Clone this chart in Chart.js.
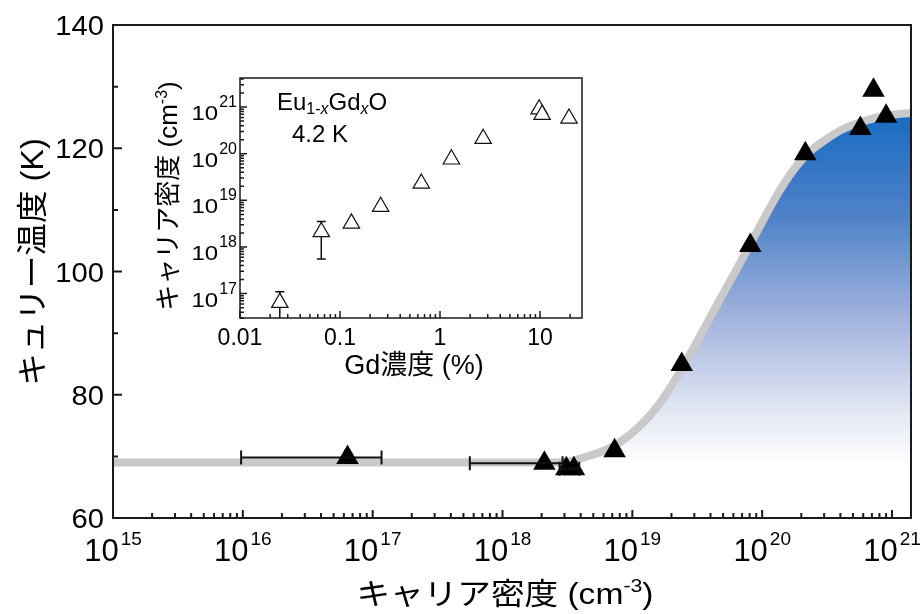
<!DOCTYPE html>
<html><head><meta charset="utf-8">
<script src="https://cdn.jsdelivr.net/npm/chart.js@4.4.1/dist/chart.umd.min.js"></script>
<style>
html,body{margin:0;padding:0;background:#fff;overflow:hidden}
#wrap{position:relative;width:924px;height:614px;background:#fff}
#wrap canvas{position:absolute;left:0;top:0}
</style></head><body>
<div id="wrap"><canvas id="main" width="924" height="614"></canvas><canvas id="inset" width="924" height="614"></canvas></div>
<script>
// ---------- main panel data ----------
const tcCarrier = [6.4e16, 2.1e18, 3.1e18, 3.55e18, 7.3e18, 2.4e19, 8.1e19, 2.15e20, 5.7e20, 7.2e20, 9.0e20];
const tcValue   = [69.8, 68.9, 68.0, 68.0, 70.9, 84.9, 104.2, 119.1, 123.2, 129.4, 125.2];
const tcErrLow  = [9.7e15, 5.6e17, null, 2.75e18, null, null, null, null, null, null, null];
const tcErrHigh = [1.17e17, 2.9e18, null, 3.9e18, null, null, null, null, null, null, null];
const fitCarrier = [1e15, 1e16, 1e17, 1e18, 2.72e18, 4.61e18, 7.19e18, 1.12e19, 1.59e19, 2.27e19, 3.23e19, 4.61e19, 6.56e19, 9.35e19, 1.33e20, 1.74e20, 2.26e20, 3.06e20, 4.06e20, 5.48e20, 7.41e20, 9.84e20, 1.4e21];
const fitTc      = [69.0, 69.0, 69.0, 69.0, 69.0, 70.06, 71.68, 74.77, 78.34, 83.37, 89.05, 95.05, 100.89, 106.9, 112.74, 116.47, 119.23, 121.34, 122.96, 124.1, 124.91, 125.4, 125.72];
const mainXExponents = [15, 16, 17, 18, 19, 20, 21];
const mainYTicks = [60, 80, 100, 120, 140];
const mainYMinor = [70, 90, 110, 130];

// ---------- inset data ----------
const gdConc      = [0.025, 0.065, 0.13, 0.255, 0.65, 1.3, 2.7, 9.8, 10.5, 19.5];
const insetCarrier = [6.4e16, 2.1e18, 3.2e18, 7.3e18, 2.3e19, 7.6e19, 2.1e20, 9.0e20, 6.9e20, 5.7e20];
const insetErrLow  = [1e16, 5.5e17, null, null, null, null, null, null, null, null];
const insetErrHigh = [1.1e17, 3.5e18, null, null, null, null, null, null, null, null];
const insetXTicks  = [0.01, 0.1, 1, 10];
const insetXLabels = ['0.01', '0.1', '1', '10'];
const insetYExponents = [17, 18, 19, 20, 21];

const LAT = "'Liberation Sans', Arial, sans-serif";
const JP = "'Liberation Sans', 'Noto Sans CJK JP', sans-serif";

function drawRuns(ctx, runs, x, y, opts) {
  opts = opts || {};
  const align = opts.align || 'center';
  ctx.save();
  ctx.translate(x, y);
  if (opts.rot) ctx.rotate(opts.rot);
  ctx.scale(opts.sx || 1, 1);
  ctx.textBaseline = 'alphabetic';
  ctx.textAlign = 'left';
  ctx.fillStyle = opts.color || '#000';
  let w = 0;
  runs.forEach(r => { ctx.font = r.font; r.w = ctx.measureText(r.t).width * (r.sx || 1); w += r.w + (r.gap || 0); });
  let cx = align === 'center' ? -w / 2 : (align === 'right' ? -w : 0);
  runs.forEach(r => {
    ctx.font = r.font;
    ctx.save(); ctx.translate(cx, r.dy || 0); ctx.scale(r.sx || 1, 1);
    ctx.fillText(r.t, 0, 0); ctx.restore();
    cx += r.w + (r.gap || 0);
  });
  ctx.restore();
}

// ---------- main chart ----------
const mainDeco = {
  id: 'mainDeco',
  afterDatasetsDraw(chart) {
    const { ctx, scales: { x, y } } = chart;
    ctx.save();
    ctx.strokeStyle = '#111'; ctx.lineWidth = 2;
    ctx.beginPath();
    tcCarrier.forEach((c, i) => {
      if (tcErrLow[i] == null) return;
      const py = y.getPixelForValue(tcValue[i]);
      const x0 = x.getPixelForValue(tcErrLow[i]), x1 = x.getPixelForValue(tcErrHigh[i]);
      ctx.moveTo(x0, py); ctx.lineTo(x1, py);
      ctx.moveTo(x0, py - 7); ctx.lineTo(x0, py + 7);
      ctx.moveTo(x1, py - 7); ctx.lineTo(x1, py + 7);
    });
    ctx.stroke();
    ctx.restore();
  },
  afterDraw(chart) {
    const { ctx, chartArea: a, scales: { x, y } } = chart;
    ctx.save();
    ctx.strokeStyle = '#1a1a1a'; ctx.lineWidth = 2;
    ctx.strokeRect(a.left, a.top, a.right - a.left, a.bottom - a.top);
    ctx.beginPath();
    mainYTicks.forEach(v => { const p = y.getPixelForValue(v); ctx.moveTo(a.left, p); ctx.lineTo(a.left + 9, p); });
    mainYMinor.forEach(v => { const p = y.getPixelForValue(v); ctx.moveTo(a.left, p); ctx.lineTo(a.left + 5, p); });
    mainXExponents.forEach(e => {
      const p = x.getPixelForValue(Math.pow(10, e));
      ctx.moveTo(p, a.bottom); ctx.lineTo(p, a.bottom - 8);
      for (let m = 2; m <= 9; m++) {
        const v = m * Math.pow(10, e);
        if (v > x.max) break;
        const q = x.getPixelForValue(v);
        ctx.moveTo(q, a.bottom); ctx.lineTo(q, a.bottom - 5);
      }
    });
    ctx.stroke();
    // y labels
    mainYTicks.forEach(v => {
      const p = y.getPixelForValue(v);
      drawRuns(ctx, [{ t: String(v), font: `27px ${LAT}` }], 104, p + 10, { align: 'right', sx: 1.08 });
    });
    // x labels
    mainXExponents.forEach(e => {
      const p = x.getPixelForValue(Math.pow(10, e));
      drawRuns(ctx, [{ t: '10', font: `31px ${LAT}`, gap: 2 }, { t: String(e), font: `19px ${LAT}`, dy: -16 }], p, 561, { align: 'center' });
    });
    // axis titles
    drawRuns(ctx, [{ t: 'キャリア密度 (cm', font: `30px ${JP}` }, { t: '-3', font: `19px ${LAT}`, dy: -12 }, { t: ')', font: `30px ${JP}` }], 505, 604, { sx: 1.12 });
    drawRuns(ctx, [{ t: 'キュリー温度 (K)', font: `31px ${JP}` }], 43, 262, { rot: -Math.PI / 2, sx: 1.05 });
    ctx.restore();
  }
};

function blueGradient(context) {
  const chart = context.chart;
  const { chartArea, scales } = chart;
  if (!chartArea || !scales.y) return 'rgba(0,0,0,0)';
  const y0 = scales.y.getPixelForValue(126), y1 = scales.y.getPixelForValue(68.6);
  const g = chart.ctx.createLinearGradient(0, y0, 0, y1);
  g.addColorStop(0, 'rgb(22,106,194)');
  g.addColorStop(0.3, 'rgb(80,130,200)');
  g.addColorStop(0.6, 'rgb(165,182,222)');
  g.addColorStop(0.85, 'rgb(226,231,243)');
  g.addColorStop(1, 'rgb(255,255,255)');
  return g;
}

new Chart(document.getElementById('main'), {
  type: 'scatter',
  data: {
    datasets: [
      {
        data: tcCarrier.map((c, i) => ({ x: c, y: tcValue[i] })),
        pointStyle: 'triangle', pointRadius: 13, pointBackgroundColor: '#000', pointBorderColor: '#000', pointBorderWidth: 0,
        order: 0
      },
      {
        type: 'line',
        data: fitCarrier.map((c, i) => ({ x: c, y: fitTc[i] })),
        borderColor: '#c9c9c9', borderWidth: 8, pointRadius: 0, cubicInterpolationMode: 'monotone',
        fill: { value: 68.6 }, backgroundColor: blueGradient, borderCapStyle: 'butt',
        order: 5
      }
    ]
  },
  options: {
    responsive: false, animation: false, devicePixelRatio: 1,
    layout: { padding: { left: 113, right: 11, top: 25, bottom: 96 } },
    plugins: { legend: { display: false }, tooltip: { enabled: false } },
    scales: {
      x: { type: 'logarithmic', min: 1e15, max: 1.4e21, display: false },
      y: { type: 'linear', min: 60, max: 140, display: false }
    }
  },
  plugins: [mainDeco]
});

// ---------- inset chart ----------
const insetDeco = {
  id: 'insetDeco',
  beforeDraw(chart) {
    const { ctx, chartArea: a } = chart;
    ctx.save(); ctx.fillStyle = '#fff'; ctx.fillRect(a.left, a.top, a.right - a.left, a.bottom - a.top); ctx.restore();
  },
  beforeDatasetsDraw(chart) {
    const { ctx, chartArea: a, scales: { x, y } } = chart;
    ctx.save();
    ctx.beginPath(); ctx.rect(a.left, a.top, a.right - a.left, a.bottom - a.top); ctx.clip();
    ctx.strokeStyle = '#111'; ctx.lineWidth = 1.5;
    ctx.beginPath();
    gdConc.forEach((g, i) => {
      if (insetErrLow[i] == null) return;
      const px = x.getPixelForValue(g);
      const y0 = y.getPixelForValue(insetErrLow[i]), y1 = y.getPixelForValue(insetErrHigh[i]);
      ctx.moveTo(px, y0); ctx.lineTo(px, y1);
      ctx.moveTo(px - 4.5, y0); ctx.lineTo(px + 4.5, y0);
      ctx.moveTo(px - 4.5, y1); ctx.lineTo(px + 4.5, y1);
    });
    ctx.stroke();
    ctx.restore();
  },
  afterDraw(chart) {
    const { ctx, chartArea: a, scales: { x, y } } = chart;
    ctx.save();
    ctx.strokeStyle = '#1a1a1a'; ctx.lineWidth = 1.5;
    ctx.strokeRect(a.left, a.top, a.right - a.left, a.bottom - a.top);
    ctx.beginPath();
    insetXTicks.forEach(v => {
      const p = x.getPixelForValue(v);
      ctx.moveTo(p, a.bottom); ctx.lineTo(p, a.bottom - 7);
      for (let m = 2; m <= 9; m++) {
        const w = m * v; if (w > x.max) break;
        const q = x.getPixelForValue(w);
        ctx.moveTo(q, a.bottom); ctx.lineTo(q, a.bottom - 4);
      }
    });
    [16].concat(insetYExponents).forEach(e => {
      const v = Math.pow(10, e);
      if (v >= y.min) { const p = y.getPixelForValue(v); ctx.moveTo(a.left, p); ctx.lineTo(a.left + 7, p); }
      for (let m = 2; m <= 9; m++) {
        const w = m * v; if (w < y.min) continue; if (w > y.max) break;
        const q = y.getPixelForValue(w);
        ctx.moveTo(a.left, q); ctx.lineTo(a.left + 4, q);
      }
    });
    ctx.stroke();
    insetXTicks.forEach((v, i) => {
      drawRuns(ctx, [{ t: insetXLabels[i], font: `23px ${LAT}` }], x.getPixelForValue(v), 345, {});
    });
    insetYExponents.forEach(e => {
      const p = y.getPixelForValue(Math.pow(10, e));
      drawRuns(ctx, [{ t: '10', font: `20px ${LAT}`, sx: 1.2, gap: 1 }, { t: String(e), font: `16px ${LAT}`, dy: -13 }], 237, p + 13, { align: 'right' });
    });
    // titles
    drawRuns(ctx, [{ t: 'Gd濃度 (%)', font: `27px ${JP}` }], 414, 374, {});
    drawRuns(ctx, [{ t: 'キャリア密度 (cm', font: `26px ${JP}` }, { t: '-3', font: `16px ${LAT}`, dy: -10 }, { t: ')', font: `26px ${JP}` }], 177, 196, { rot: -Math.PI / 2 });
    // annotation
    drawRuns(ctx, [
      { t: 'Eu', font: `24px ${LAT}` },
      { t: '1-', font: `16px ${LAT}`, dy: 4 },
      { t: 'x', font: `italic 16px ${LAT}`, dy: 4 },
      { t: 'Gd', font: `24px ${LAT}` },
      { t: 'x', font: `italic 16px ${LAT}`, dy: 4 },
      { t: 'O', font: `24px ${LAT}` }
    ], 277, 110, { align: 'left' });
    drawRuns(ctx, [{ t: '4.2 K', font: `24px ${LAT}` }], 292, 142, { align: 'left' });
    ctx.restore();
  }
};

new Chart(document.getElementById('inset'), {
  type: 'scatter',
  data: {
    datasets: [{
      data: gdConc.map((g, i) => ({ x: g, y: insetCarrier[i] })),
      pointStyle: 'triangle', pointRadius: 9.5, pointBackgroundColor: '#fff', pointBorderColor: '#111', pointBorderWidth: 1.2
    }]
  },
  options: {
    responsive: false, animation: false, devicePixelRatio: 1,
    layout: { padding: { left: 240, right: 342, top: 78, bottom: 296 } },
    plugins: { legend: { display: false }, tooltip: { enabled: false } },
    scales: {
      x: { type: 'logarithmic', min: 0.01, max: 26.3, display: false },
      y: { type: 'logarithmic', min: 3.0e16, max: 4.2e21, display: false }
    }
  },
  plugins: [insetDeco]
});
</script>
</body></html>
